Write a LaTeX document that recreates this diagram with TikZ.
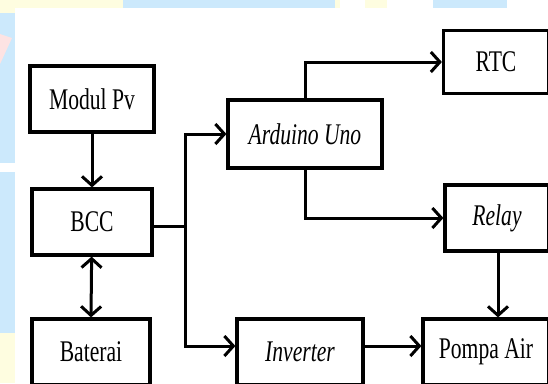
\documentclass[tikz,border=0pt]{standalone}
\usepackage{fontspec}
\setmainfont[FakeStretch=0.72]{Liberation Serif}
\usetikzlibrary{arrows.meta}
\definecolor{wmblue}{HTML}{CCE9FC}
\definecolor{wmyellow}{HTML}{FEFDE0}
\definecolor{wmpink}{HTML}{FDE3E3}
\begin{document}
\begin{tikzpicture}
  [x=1pt,y=-1pt,line width=3pt,
   every node/.style={draw,line width=3.2pt,inner sep=0pt,minimum height=66pt,
     font=\fontsize{30}{36}\selectfont},
   arr/.style={-{Straight Barb[length=9pt,width=20pt]}}]
  \useasboundingbox (0,0) rectangle (548,383);
  \clip (0,0) rectangle (548,383);
  % watermark round the page
  \fill[wmblue] (0,0) rectangle (548,383);
  \fill[wmyellow] (0,0) rectangle (123,8);
  \fill[wmyellow] (0,0) rectangle (15,13);
  \fill[wmpink] (0,34) -- (12,38) -- (0,64) -- cycle;
  \fill[white] (0,163) rectangle (15,172);
  \fill[wmyellow] (0,333) rectangle (15,383);
  \fill[wmyellow] (335,0) rectangle (433,8);
  \fill[white] (340,0) rectangle (365,8);
  \fill[white] (387,0) rectangle (433,8);
  \fill[white] (507,0) rectangle (548,8);
  \fill[white] (15,8) rectangle (548,383);

  \node[minimum width=124pt] (pv) at (92,99) {Modul Pv};
  \node[minimum width=120pt] (bcc) at (92,222) {BCC};
  \node[minimum width=118pt] (bat) at (91,352) {Baterai};
  \node[minimum width=154pt,minimum height=68pt] (ard) at (305,134) {\itshape Arduino Uno};
  \node[minimum width=105pt,minimum height=63pt] (rtc) at (496,62) {RTC};
  \node[minimum width=104pt] (relay) at (497,218) {\itshape Relay};
  \node[minimum width=126pt] (inv) at (300,352) {\itshape Inverter};
  \node[minimum width=126pt] (pompa) at (486,352) {Pompa Air};
  \coordinate (j) at (185,226);

  \foreach \from/\to in {pv/bcc}
    \draw[arr] (\from) -- (\to);
  \draw[{Straight Barb[length=9pt,width=20pt]}-{Straight Barb[length=9pt,width=20pt]}] (bcc) -- (bat.north);
  \draw (bcc.east |- j) -- (j);
  \draw[arr] (j) |- (ard);
  \draw[arr] (j) |- ([yshift=6pt]inv.west);
  \draw[arr] ([yshift=6pt]inv.east) -- ([yshift=6pt]inv.east -| pompa.west);
  \draw[arr] (ard.north) |- (rtc);
  \draw[arr] (ard.south) |- (relay);
  \draw[arr] ([xshift=1pt]relay.south) -- ([xshift=1pt]relay.south |- pompa.north);
\end{tikzpicture}
\end{document}
